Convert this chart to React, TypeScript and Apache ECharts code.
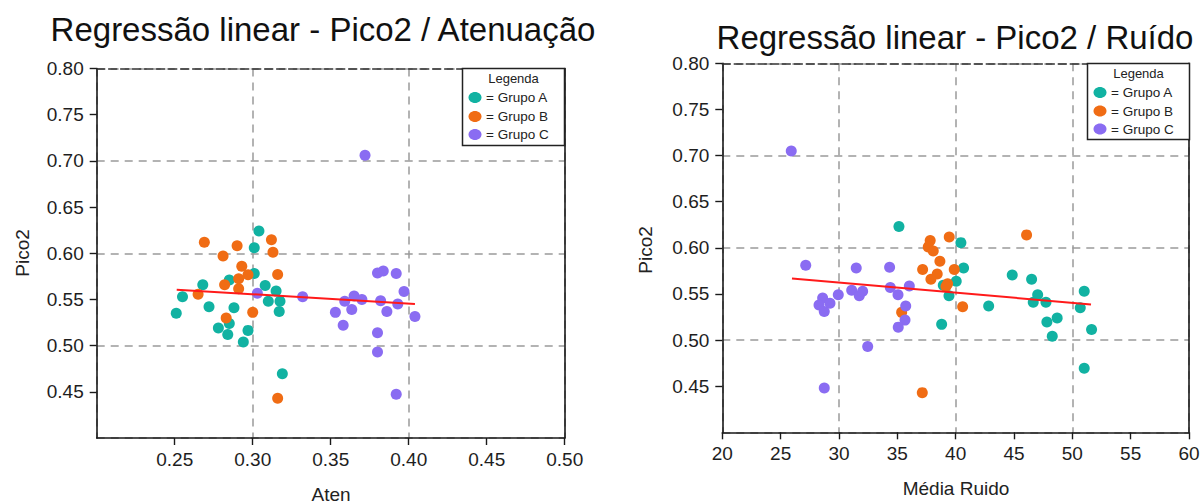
import React, { useEffect, useRef } from "react";
import * as echarts from "echarts";

// ---- Data: Pico2 vs Atenuação ----
const atenA = [0.251, 0.255, 0.268, 0.272, 0.278, 0.284, 0.285, 0.285, 0.288, 0.294, 0.297, 0.301, 0.301, 0.304, 0.308, 0.31, 0.315, 0.3175, 0.317, 0.319];
const picoAtenA = [0.535, 0.553, 0.566, 0.542, 0.519, 0.512, 0.524, 0.571, 0.541, 0.504, 0.5165, 0.606, 0.578, 0.624, 0.565, 0.548, 0.559, 0.548, 0.537, 0.4695];
const atenB = [0.269, 0.265, 0.281, 0.282, 0.283, 0.29, 0.293, 0.291, 0.291, 0.297, 0.3, 0.312, 0.313, 0.316, 0.316];
const picoAtenB = [0.612, 0.5555, 0.597, 0.566, 0.53, 0.608, 0.586, 0.5725, 0.5616, 0.5768, 0.536, 0.6147, 0.601, 0.577, 0.443];
const atenC = [0.303, 0.332, 0.372, 0.353, 0.358, 0.359, 0.365, 0.3635, 0.37, 0.38, 0.3837, 0.382, 0.386, 0.38, 0.38, 0.392, 0.393, 0.397, 0.404, 0.392];
const picoAtenC = [0.5566, 0.553, 0.706, 0.536, 0.522, 0.548, 0.5536, 0.539, 0.55, 0.5786, 0.5807, 0.5486, 0.537, 0.514, 0.493, 0.578, 0.545, 0.5587, 0.5316, 0.4474];
const regAtenX = [0.2513, 0.404];
const regAtenY = [0.5606, 0.545];

// ---- Data: Pico2 vs Média Ruído ----
const ruidoA = [35.14, 40.45, 40.68, 40.05, 38.94, 39.43, 38.8, 42.83, 44.85, 46.51, 47.03, 46.65, 47.74, 47.82, 48.7, 48.28, 51.02, 50.68, 51.65, 51.02];
const picoRuidoA = [0.623, 0.6056, 0.578, 0.5638, 0.5595, 0.548, 0.517, 0.537, 0.5706, 0.566, 0.549, 0.541, 0.541, 0.5195, 0.524, 0.504, 0.553, 0.535, 0.5115, 0.4694];
const ruidoB = [35.37, 37.17, 37.82, 37.65, 38.08, 38.65, 38.42, 37.88, 39.45, 39.88, 39.31, 39.17, 40.6, 37.14, 46.08];
const picoRuidoB = [0.53, 0.5764, 0.608, 0.601, 0.5966, 0.5854, 0.5717, 0.566, 0.6117, 0.5764, 0.561, 0.558, 0.536, 0.443, 0.614];
const ruidoC = [25.91, 27.15, 28.6, 28.29, 28.74, 29.23, 29.94, 28.74, 31.48, 31.09, 31.74, 32.03, 32.46, 34.34, 34.4, 35.06, 36.03, 35.72, 35.66, 35.08];
const picoRuidoC = [0.705, 0.581, 0.5457, 0.538, 0.531, 0.54, 0.549, 0.448, 0.578, 0.554, 0.548, 0.553, 0.493, 0.579, 0.557, 0.549, 0.5587, 0.537, 0.5216, 0.514];
const regRuidoX = [25.97, 51.6];
const regRuidoY = [0.5667, 0.5386];

const groupNames = ["Grupo A", "Grupo B", "Grupo C"];
const groupColors = ["#11b2a2", "#f06c14", "#8a6cf2"];
const titles = ["Regressão linear - Pico2 / Atenuação", "Regressão linear - Pico2 / Ruído"];
const xNames = ["Aten", "Média Ruido"];
const yName = "Pico2";

const zip = (xs: number[], ys: number[]) => xs.map((x, i) => [x, ys[i]]);

const FONT = "Liberation Sans, Arial, sans-serif";
const AX = "#1a1a1a";
const GRID = "#9a9a9a";
const TICK_FS = 19;

function mainX(gridIndex: number, min: number, max: number, interval: number, fmt: (v: number) => string, showMin: boolean) {
  return {
    type: "value", gridIndex, min, max, interval, position: "bottom",
    axisLine: { show: true, onZero: false, lineStyle: { color: AX, width: 1.6 } },
    axisTick: { show: true, length: 7, lineStyle: { color: AX, width: 1.4 } },
    axisLabel: { show: true, margin: 12, fontSize: TICK_FS, color: "#1e1e1e", fontFamily: FONT, formatter: fmt, showMinLabel: showMin },
    splitLine: { show: false },
  };
}
function splitX(gridIndex: number, min: number, max: number, interval: number) {
  return {
    type: "value", gridIndex, min, max, interval, position: "bottom",
    axisLine: { show: false }, axisTick: { show: false }, axisLabel: { show: false },
    splitLine: { show: true, lineStyle: { color: GRID, width: 1.5, type: [8, 6] } },
  };
}
function topX(gridIndex: number, min: number, max: number) {
  return {
    type: "value", gridIndex, min, max, position: "top",
    axisLine: { show: true, onZero: false, lineStyle: { color: "#333", width: 1.6, type: [8, 4] } },
    axisTick: { show: false }, axisLabel: { show: false }, splitLine: { show: false },
  };
}
function mainY(gridIndex: number) {
  return {
    type: "value", gridIndex, min: 0.4, max: 0.8, interval: 0.05, position: "left",
    axisLine: { show: true, onZero: false, lineStyle: { color: AX, width: 1.6 } },
    axisTick: { show: true, length: 7, lineStyle: { color: AX, width: 1.4 } },
    axisLabel: { show: true, margin: 13, fontSize: TICK_FS, color: "#1e1e1e", fontFamily: FONT, formatter: (v: number) => v.toFixed(2), showMinLabel: false },
    splitLine: { show: false },
  };
}
function splitY(gridIndex: number) {
  return {
    type: "value", gridIndex, min: 0.4, max: 0.8, interval: 0.1, position: "left",
    axisLine: { show: false }, axisTick: { show: false }, axisLabel: { show: false },
    splitLine: { show: true, lineStyle: { color: GRID, width: 1.5, type: [8, 6] } },
  };
}
function rightY(gridIndex: number) {
  return {
    type: "value", gridIndex, min: 0.4, max: 0.8, position: "right",
    axisLine: { show: true, onZero: false, lineStyle: { color: AX, width: 1.6 } },
    axisTick: { show: false }, axisLabel: { show: false }, splitLine: { show: false },
  };
}

function legendGraphic(left: number, top: number, width: number, height: number, titleY: number, rowYs: number[], circleX: number, textX: number) {
  const els: any[] = [
    { type: "rect", shape: { x: left, y: top, width, height }, style: { fill: "#fff", stroke: "#222", lineWidth: 1.5 }, z: 100 },
    { type: "text", x: left + width / 2, y: titleY, style: { text: "Legenda", font: `13px ${FONT}`, fill: "#222", align: "center", verticalAlign: "middle" }, z: 101 },
  ];
  groupNames.forEach((g, i) => {
    els.push({ type: "ellipse", shape: { cx: circleX, cy: rowYs[i], rx: 6.5, ry: 5.5 }, style: { fill: groupColors[i] }, z: 101 });
    els.push({ type: "text", x: textX, y: rowYs[i], style: { text: "= " + g, font: `13.5px ${FONT}`, fill: "#222", align: "left", verticalAlign: "middle" }, z: 101 });
  });
  return els;
}

export default function App() {
  const ref = useRef<HTMLDivElement>(null);
  useEffect(() => {
    if (!ref.current) return;
    const chart = echarts.init(ref.current, undefined, { renderer: "svg" });

    const leftSets = [zip(atenA, picoAtenA), zip(atenB, picoAtenB), zip(atenC, picoAtenC)];
    const rightSets = [zip(ruidoA, picoRuidoA), zip(ruidoB, picoRuidoB), zip(ruidoC, picoRuidoC)];

    const series: any[] = [];
    leftSets.forEach((d, i) =>
      series.push({ type: "scatter", name: groupNames[i], xAxisIndex: 0, yAxisIndex: 0, data: d, symbolSize: 11, itemStyle: { color: groupColors[i], opacity: 1 }, z: 3 })
    );
    series.push({ type: "line", xAxisIndex: 0, yAxisIndex: 0, data: zip(regAtenX, regAtenY), symbol: "none", lineStyle: { color: "#ff1a1a", width: 2 }, z: 5 });
    rightSets.forEach((d, i) =>
      series.push({ type: "scatter", name: groupNames[i], xAxisIndex: 3, yAxisIndex: 3, data: d, symbolSize: 11, itemStyle: { color: groupColors[i], opacity: 1 }, z: 3 })
    );
    series.push({ type: "line", xAxisIndex: 3, yAxisIndex: 3, data: zip(regRuidoX, regRuidoY), symbol: "none", lineStyle: { color: "#ff1a1a", width: 2 }, z: 5 });

    const graphic: any[] = [
      { type: "text", x: 323, y: 29, style: { text: titles[0], font: `33px ${FONT}`, fill: "#111", align: "center", verticalAlign: "middle" } },
      { type: "text", x: 955, y: 37, style: { text: titles[1], font: `33px ${FONT}`, fill: "#111", align: "center", verticalAlign: "middle" } },
      { type: "text", x: 22, y: 253, rotation: Math.PI / 2, style: { text: yName, font: `19px ${FONT}`, fill: "#222", align: "center", verticalAlign: "middle" } },
      { type: "text", x: 331, y: 494, style: { text: xNames[0], font: `19px ${FONT}`, fill: "#222", align: "center", verticalAlign: "middle" } },
      { type: "text", x: 645, y: 250, rotation: Math.PI / 2, style: { text: yName, font: `19px ${FONT}`, fill: "#222", align: "center", verticalAlign: "middle" } },
      { type: "text", x: 956, y: 488, style: { text: xNames[1], font: `19px ${FONT}`, fill: "#222", align: "center", verticalAlign: "middle" } },
      ...legendGraphic(462.5, 68.5, 102, 77, 78, [97.5, 116.5, 134.5], 475, 486),
      ...legendGraphic(1087.5, 63.5, 102, 76, 73, [92.5, 111, 129], 1100, 1111),
    ];

    chart.setOption({
      animation: false,
      backgroundColor: "#fff",
      textStyle: { fontFamily: FONT },
      grid: [
        { left: 96.7, top: 68.5, width: 468, height: 369.5, containLabel: false },
        { left: 722.3, top: 63.3, width: 466.7, height: 369, containLabel: false },
      ],
      xAxis: [
        mainX(0, 0.2, 0.5, 0.05, (v: number) => v.toFixed(2), false),
        splitX(0, 0.2, 0.5, 0.1),
        topX(0, 0.2, 0.5),
        mainX(1, 20, 60, 5, (v: number) => String(Math.round(v)), true),
        splitX(1, 20, 60, 10),
        topX(1, 20, 60),
      ],
      yAxis: [mainY(0), splitY(0), rightY(0), mainY(1), splitY(1), rightY(1)],
      series,
      graphic,
    });
    return () => chart.dispose();
  }, []);
  return <div ref={ref} style={{ position: "absolute", left: 0, top: 0, width: 1203, height: 503 }} />;
}
